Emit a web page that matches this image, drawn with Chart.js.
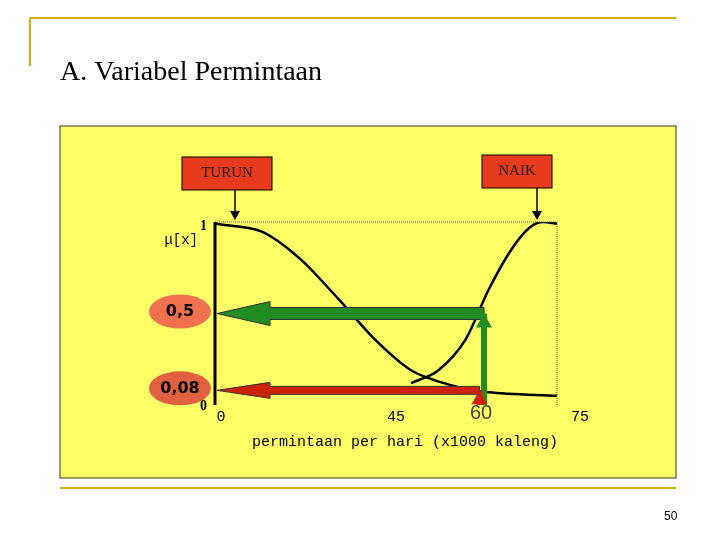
<!DOCTYPE html>
<html><head><meta charset="utf-8">
<script src="https://cdn.jsdelivr.net/npm/chart.js@4"></script>
<style>html,body{margin:0;padding:0;background:#fff}#w{width:720px;height:540px}</style>
</head><body><div id="w"><canvas id="c"></canvas></div>
<script>
const turunX=[0,10,18.6,27.4,35,43,51.5,60,75];
const turunY=[0.99,0.95,0.80,0.57,0.36,0.19,0.11,0.07,0.05];
const naikX=[43,49,55,60,65,69,72,75];
const naikY=[0.12,0.19,0.36,0.63,0.85,0.97,1.0,0.99];
const xTicks=[0,45,60,75];
const levels=[0.5,0.08];
const levelLabels=['0,5','0,08'];
const levelCut=[59,58];

const deco={id:'deco',
beforeDraw(ch){const c=ch.ctx;c.save();
 c.fillStyle='#fff';c.fillRect(0,0,720,540);
 c.strokeStyle='#d4b000';c.lineWidth=2;
 c.beginPath();c.moveTo(30,18);c.lineTo(676,18);c.moveTo(30,18);c.lineTo(30,66);c.moveTo(60,488);c.lineTo(676,488);c.stroke();
 c.fillStyle='#ffff66';c.fillRect(60,126,616,352);c.strokeStyle='#333';c.lineWidth=1;c.strokeRect(60,126,616,352);
 c.fillStyle='#000';c.font='28px "Liberation Serif"';c.fillText('A. Variabel Permintaan',60,80);
 c.font='12px "Liberation Sans"';c.fillText('50',664,520);
 c.restore();},
afterDraw(ch){const c=ch.ctx,x=ch.scales.x,y=ch.scales.y;c.save();
 const X0=x.getPixelForValue(0),Y0=y.getPixelForValue(0),Y1=y.getPixelForValue(1),X75=x.getPixelForValue(75);
 c.strokeStyle='#555';c.lineWidth=1;c.setLineDash([1,1]);
 c.beginPath();c.moveTo(X0,Y1);c.lineTo(X75,Y1);c.lineTo(X75,Y0);c.stroke();c.setLineDash([]);
 c.strokeStyle='#000';c.lineWidth=3;c.beginPath();c.moveTo(X0,Y1);c.lineTo(X0,Y0);c.stroke();
 const cols=['#228b22','#cc2200'];
 levels.forEach((v,i)=>{const py=y.getPixelForValue(v),px=x.getPixelForValue(levelCut[i]);
  c.fillStyle=cols[i];c.strokeStyle='#333';c.lineWidth=1;
  const h=i==0?12:8;
  c.beginPath();c.moveTo(X0+2,py);c.lineTo(X0+55,py-h);c.lineTo(X0+55,py-h/2);c.lineTo(px,py-h/2);c.lineTo(px,py+h/2);c.lineTo(X0+55,py+h/2);c.lineTo(X0+55,py+h);c.closePath();c.fill();c.stroke();
  c.fillRect(px-3,py,6,Y0-py);
  c.beginPath();c.moveTo(px-8,py+14);c.lineTo(px,py);c.lineTo(px+8,py+14);c.closePath();c.fill();
  const bx=180,bw=62,bh=34;
  c.fillStyle=i==0?'#f07050':'#e06040';c.beginPath();c.ellipse(bx,py-2,bw/2,bh/2,0,0,Math.PI*2);c.fill();
  c.fillStyle='#000';c.font='bold 16px "DejaVu Sans"';c.textAlign='center';c.textBaseline='middle';c.fillText(levelLabels[i],bx,py-2);
 });
 c.textAlign='right';c.textBaseline='alphabetic';c.fillStyle='#000';
 c.font='bold 14px "Liberation Serif"';c.fillText('1',207,230);c.fillText('0',207,410);
 c.font='14px "Liberation Mono"';c.fillText('\u03bc[x]',198,244);
 c.textAlign='center';
 const tx={0:221,45:396,60:481,75:580};
 xTicks.forEach(t=>{if(t==60){c.font='20px "Liberation Sans"';c.fillStyle='#444';c.fillText('60',tx[t],419);}else{c.font='15px "Liberation Mono"';c.fillStyle='#000';c.fillText(String(t),tx[t],421);}});
 c.fillStyle='#000';c.font='15px "Liberation Mono"';c.fillText('permintaan per hari (x1000 kaleng)',405,446);
 [[182,157,90,'TURUN'],[482,155,70,'NAIK']].forEach(([bx,by,bw,t])=>{c.fillStyle='#e83a1c';c.fillRect(bx,by,bw,33);c.strokeStyle='#000';c.strokeRect(bx,by,bw,33);
  c.fillStyle='#222';c.font='15px "Liberation Serif"';c.textBaseline='middle';c.fillText(t,bx+bw/2,by+16);});
 c.strokeStyle='#000';c.lineWidth=1.5;c.fillStyle='#000';
 [[235,190,Y1-2],[537,188,Y1-2]].forEach(([ax,a1,a2])=>{c.beginPath();c.moveTo(ax,a1);c.lineTo(ax,a2-8);c.stroke();c.beginPath();c.moveTo(ax-5,a2-9);c.lineTo(ax,a2);c.lineTo(ax+5,a2-9);c.fill();});
 c.restore();}};

new Chart(document.getElementById('c'),{type:'scatter',
 data:{datasets:[
  {data:turunX.map((v,i)=>({x:v,y:turunY[i]})),showLine:true,borderColor:'#000',borderWidth:2.5,pointRadius:0,tension:0.3},
  {data:naikX.map((v,i)=>({x:v,y:naikY[i]})),showLine:true,borderColor:'#000',borderWidth:2.5,pointRadius:0,cubicInterpolationMode:'monotone'}]},
 options:{responsive:true,maintainAspectRatio:false,animation:false,
  layout:{padding:{left:215,right:163,top:222,bottom:135}},
  plugins:{legend:{display:false},tooltip:{enabled:false}},
  scales:{x:{type:'linear',min:0,max:75,display:false},y:{min:0,max:1,display:false}}},
 plugins:[deco]});
</script></body></html>
